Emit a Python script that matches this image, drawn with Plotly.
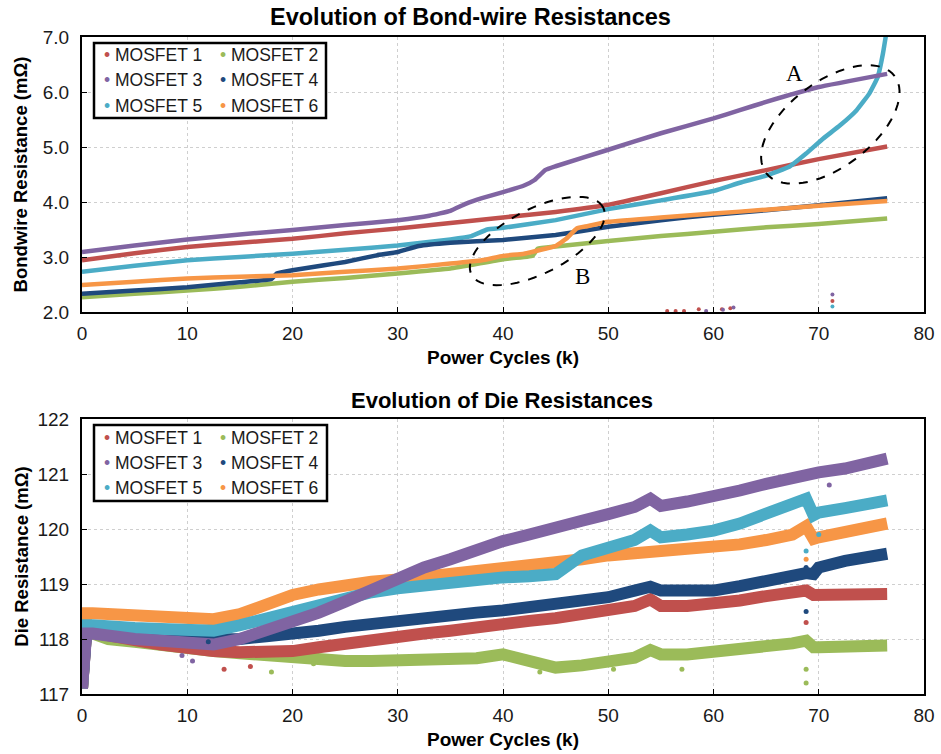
import math
import plotly.graph_objects as go

# ---------------- colours ----------------
COL = {
    "MOSFET 1": "#C0504D",
    "MOSFET 2": "#9BBB59",
    "MOSFET 3": "#8064A2",
    "MOSFET 4": "#1F497D",
    "MOSFET 5": "#4BACC6",
    "MOSFET 6": "#F79646",
}
NAMES = ["MOSFET 1", "MOSFET 2", "MOSFET 3", "MOSFET 4", "MOSFET 5", "MOSFET 6"]

# ---------------- top chart: bond-wire resistance (mOhm) ----------------
bw_m1_x = [0, 5, 10, 15, 20, 25, 30, 35, 40, 45, 50, 55, 60, 62.5, 65, 70, 76.5]
bw_m1_y = [2.94, 3.07, 3.18, 3.26, 3.33, 3.43, 3.52, 3.62, 3.72, 3.82, 3.95, 4.16, 4.38, 4.48, 4.58, 4.78, 5.01]

bw_m2_x = [0, 5, 10, 15, 20, 25, 30, 35, 40, 42.8, 43.3, 45, 50, 55, 60, 65, 70, 76.5]
bw_m2_y = [2.27, 2.33, 2.39, 2.46, 2.55, 2.62, 2.70, 2.79, 2.96, 3.02, 3.15, 3.19, 3.29, 3.38, 3.46, 3.54, 3.60, 3.70]

bw_m3_x = [0, 5, 10, 15, 20, 25, 30, 33, 35, 36.5, 38, 40, 42, 43, 44, 45, 50, 55, 60, 62.5, 65, 70, 76.5]
bw_m3_y = [3.09, 3.21, 3.32, 3.41, 3.49, 3.58, 3.67, 3.75, 3.84, 3.97, 4.07, 4.18, 4.30, 4.40, 4.58, 4.65, 4.95, 5.25, 5.52, 5.67, 5.82, 6.09, 6.33]

bw_m4_x = [0, 5, 10, 15, 18, 18.5, 20, 23, 25, 28, 30, 32, 35, 40, 45, 50, 55, 60, 65, 70, 76.5]
bw_m4_y = [2.33, 2.39, 2.45, 2.54, 2.60, 2.70, 2.76, 2.85, 2.91, 3.03, 3.09, 3.20, 3.26, 3.31, 3.40, 3.55, 3.67, 3.77, 3.85, 3.94, 4.07]

bw_m5_x = [0, 5, 10, 15, 20, 25, 30, 35, 37, 38.5, 40, 45, 50, 55, 60, 62.5, 65, 67.2, 68.8, 70.4, 72, 73.6, 74.8, 75.6, 76.1, 76.4]
bw_m5_y = [2.73, 2.84, 2.94, 3.00, 3.06, 3.13, 3.21, 3.32, 3.38, 3.50, 3.53, 3.67, 3.87, 4.03, 4.20, 4.35, 4.48, 4.64, 4.88, 5.15, 5.39, 5.67, 5.97, 6.27, 6.70, 7.05]

bw_m6_x = [0, 5, 10, 15, 20, 25, 30, 35, 38, 40, 42, 44, 45, 46, 47, 48, 50, 55, 60, 65, 70, 76.5]
bw_m6_y = [2.49, 2.55, 2.61, 2.64, 2.67, 2.73, 2.79, 2.88, 2.94, 3.02, 3.06, 3.15, 3.20, 3.33, 3.52, 3.56, 3.64, 3.72, 3.79, 3.86, 3.93, 4.02]

# stray readings near the bottom of the top chart
bw_stray_x = [55.6, 56.4, 57.2, 58.6, 60.8, 61.6, 59.3, 60.9, 61.9, 71.3, 71.3, 71.3]
bw_stray_y = [2.02, 2.02, 2.02, 2.05, 2.05, 2.07, 2.02, 2.04, 2.08, 2.20, 2.32, 2.10]
bw_stray_c = ["MOSFET 1"] * 6 + ["MOSFET 3"] * 3 + ["MOSFET 1", "MOSFET 3", "MOSFET 5"]

# ---------------- bottom chart: die resistance (mOhm) ----------------
die_x = [0, 0.4, 1, 2.5, 5, 7.5, 10, 12.5, 15, 17.5, 20, 22.5, 25, 27.5, 30, 32.5, 35, 37.5, 40,
         42.5, 45, 47.5, 50, 52.5, 54, 55, 57.5, 60, 62.5, 65, 67.5, 68.8, 69.5, 70, 72.5, 75, 76.5]
die_m1 = [117.1, 118.15, 118.12, 118.05, 117.98, 117.9, 117.82, 117.78, 117.76, 117.76, 117.78, 117.85, 117.92, 118.0,
          118.05, 118.1, 118.15, 118.22, 118.3, 118.33, 118.38, 118.45, 118.5, 118.6, 118.72, 118.6, 118.6, 118.64,
          118.7, 118.78, 118.83, 118.88, 118.8, 118.8, 118.8, 118.82, 118.82]
die_m2 = [117.1, 118.15, 118.1, 118.0, 117.95, 117.88, 117.82, 117.78, 117.74, 117.7, 117.66, 117.63, 117.6, 117.6,
          117.6, 117.6, 117.62, 117.65, 117.72, 117.62, 117.48, 117.52, 117.58, 117.66, 117.8, 117.72, 117.72, 117.76,
          117.8, 117.86, 117.92, 117.97, 117.85, 117.85, 117.86, 117.87, 117.88]
die_m3 = [117.1, 118.1, 118.1, 118.05, 118.0, 117.97, 117.93, 117.9, 118.0, 118.15, 118.3, 118.48, 118.68, 118.9,
          119.12, 119.3, 119.45, 119.62, 119.78, 119.9, 120.05, 120.15, 120.27, 120.4, 120.55, 120.42, 120.5, 120.58,
          120.7, 120.82, 120.95, 121.02, 121.0, 121.03, 121.1, 121.2, 121.28]
die_m4 = [117.1, 118.15, 118.14, 118.1, 118.05, 118.0, 117.98, 117.97, 118.0, 118.05, 118.08, 118.15, 118.22, 118.28,
          118.33, 118.38, 118.43, 118.48, 118.52, 118.58, 118.62, 118.7, 118.76, 118.88, 118.95, 118.88, 118.87, 118.88,
          118.96, 119.06, 119.14, 119.2, 119.18, 119.3, 119.42, 119.48, 119.55]
die_m5 = [117.1, 118.25, 118.25, 118.22, 118.2, 118.18, 118.16, 118.15, 118.25, 118.38, 118.5, 118.62, 118.75, 118.85,
          118.92, 118.98, 119.03, 119.08, 119.12, 119.14, 119.18, 119.52, 119.65, 119.8, 119.97, 119.85, 119.9, 119.97,
          120.1, 120.27, 120.42, 120.55, 120.25, 120.3, 120.38, 120.45, 120.52]
die_m6 = [117.1, 118.47, 118.47, 118.46, 118.45, 118.44, 118.42, 118.36, 118.45, 118.62, 118.8, 118.9, 118.98, 119.04,
          119.08, 119.13, 119.18, 119.22, 119.27, 119.3, 119.36, 119.45, 119.52, 119.58, 119.62, 119.6, 119.64, 119.67,
          119.72, 119.8, 119.9, 120.05, 119.82, 119.85, 119.93, 120.0, 120.1]
die_series = [die_m1, die_m2, die_m3, die_m4, die_m5, die_m6]

# isolated die readings away from the main bands
die_out_x = [68.8, 68.8, 68.8, 68.8, 68.8, 68.8, 68.8, 57.0, 50.5, 43.5, 13.5, 16.0, 18.0, 22.0, 10.5, 9.5, 12.0, 71.0, 74.0, 70.0]
die_out_y = [117.2, 117.45, 118.3, 118.5, 119.6, 119.45, 119.3, 117.45, 117.45, 117.4, 117.45, 117.5, 117.4, 117.55, 117.6, 117.7, 117.95, 120.8, 121.15, 119.9]
die_out_c = ["MOSFET 2", "MOSFET 2", "MOSFET 1", "MOSFET 4", "MOSFET 5", "MOSFET 6", "MOSFET 4", "MOSFET 2",
             "MOSFET 2", "MOSFET 2", "MOSFET 1", "MOSFET 1", "MOSFET 2", "MOSFET 2", "MOSFET 3", "MOSFET 3",
             "MOSFET 4", "MOSFET 3", "MOSFET 3", "MOSFET 5"]

# ---------------- geometry helpers (layout only) ----------------
W, H = 941, 754
ML, MR, MT, MB = 82, 17, 37, 60
PW, PH = W - ML - MR, H - MT - MB
TOP_Y0, TOP_Y1 = 312, 37       # pixel rows of the top plot frame
BOT_Y0, BOT_Y1 = 694, 419      # pixel rows of the bottom plot frame


def px2paper_x(px):
    return (px - ML) / PW


def px2paper_y(py):
    return (H - MB - py) / PH


top_dom = [px2paper_y(TOP_Y0), 1.0]
bot_dom = [0.0, px2paper_y(BOT_Y1)]

FONT = "Liberation Sans, Arial, sans-serif"

fig = go.Figure()

top_sets = [(bw_m1_x, bw_m1_y), (bw_m2_x, bw_m2_y), (bw_m3_x, bw_m3_y),
            (bw_m4_x, bw_m4_y), (bw_m5_x, bw_m5_y), (bw_m6_x, bw_m6_y)]
draw_order = [1, 0, 4, 3, 5, 2]  # green under, purple on top
for i in draw_order:
    xs, ys = top_sets[i]
    fig.add_trace(go.Scatter(x=xs, y=ys, mode="lines", name=NAMES[i], showlegend=False,
                             line=dict(color=COL[NAMES[i]], width=4.5, shape="spline", smoothing=0.3),
                             xaxis="x", yaxis="y", cliponaxis=True))

fig.add_trace(go.Scatter(x=bw_stray_x, y=bw_stray_y, mode="markers", showlegend=False,
                         marker=dict(size=4, color=[COL[c] for c in bw_stray_c]),
                         xaxis="x", yaxis="y"))

die_order = [1, 0, 3, 5, 4, 2]
for i in die_order:
    fig.add_trace(go.Scatter(x=die_x, y=die_series[i], mode="lines", name=NAMES[i], showlegend=False,
                             line=dict(color=COL[NAMES[i]], width=12),
                             xaxis="x2", yaxis="y2"))

fig.add_trace(go.Scatter(x=die_out_x, y=die_out_y, mode="markers", showlegend=False,
                         marker=dict(size=5, color=[COL[c] for c in die_out_c]),
                         xaxis="x2", yaxis="y2"))

# ---------------- ellipses A and B (annotation shapes) ----------------
x_scale = PW / 80.0           # px per k-cycle
y_scale = (TOP_Y0 - TOP_Y1) / 5.0  # px per mOhm on the top chart


def ellipse_path(cx, cy, a, b, ang):
    th = math.radians(ang)
    pts = []
    for k in range(73):
        t = 2 * math.pi * k / 72
        dx = a * math.cos(t) * math.cos(th) - b * math.sin(t) * math.sin(th)
        dy = a * math.cos(t) * math.sin(th) + b * math.sin(t) * math.cos(th)
        pts.append((cx + dx / x_scale, cy + dy / y_scale))
    return "M " + " L ".join(f"{x:.4f},{y:.4f}" for x, y in pts) + " Z"


shapes = [
    dict(type="path", path=ellipse_path(71.1, 5.41, 80.5, 42.7, 37), xref="x", yref="y",
         line=dict(color="black", width=2, dash="dash")),
    dict(type="path", path=ellipse_path(43.26, 3.29, 73.9, 32.3, 27), xref="x", yref="y",
         line=dict(color="black", width=2, dash="dash")),
]

annotations = [
    dict(text="A", x=67.7, y=6.33, xref="x", yref="y", showarrow=False,
         font=dict(family="Liberation Serif, Times New Roman, serif", size=23, color="black")),
    dict(text="B", x=47.6, y=2.64, xref="x", yref="y", showarrow=False,
         font=dict(family="Liberation Serif, Times New Roman, serif", size=23, color="black")),
    dict(text="<b>Evolution of Bond-wire Resistances</b>", x=px2paper_x(470), y=px2paper_y(17),
         xref="paper", yref="paper", showarrow=False, xanchor="center", yanchor="middle",
         font=dict(family=FONT, size=23.5, color="black")),
    dict(text="<b>Evolution of Die Resistances</b>", x=px2paper_x(502), y=px2paper_y(400),
         xref="paper", yref="paper", showarrow=False, xanchor="center", yanchor="middle",
         font=dict(family=FONT, size=22, color="black")),
]

# ---------------- legends (two columns of text with coloured bullets) ----------------
legend_boxes = [(94, 43, 326, 118, [55, 80, 106]), (94, 425, 327, 501, [438, 463, 488])]
for (bx0, by0, bx1, by1, rows) in legend_boxes:
    shapes.append(dict(type="rect", xref="paper", yref="paper",
                       x0=px2paper_x(bx0), x1=px2paper_x(bx1), y0=px2paper_y(by1), y1=px2paper_y(by0),
                       line=dict(color="black", width=2.5), fillcolor="white", layer="above"))
    for r, py in enumerate(rows):
        for c, pxl in enumerate([102, 218]):
            name = NAMES[r * 2 + c]
            annotations.append(dict(
                text=f"<span style='color:{COL[name]}'>•</span> {name}",
                x=px2paper_x(pxl), y=px2paper_y(py), xref="paper", yref="paper",
                xanchor="left", yanchor="middle", showarrow=False,
                font=dict(family=FONT, size=17.5, color="#1a1a1a")))

axis_common = dict(showgrid=True, gridcolor="#cfcfcf", griddash="dot", gridwidth=1,
                   showline=True, linecolor="black", linewidth=2, mirror=True,
                   ticks="inside", ticklen=5, tickcolor="black", zeroline=False, automargin=False,
                   tickfont=dict(family=FONT, size=19, color="#1a1a1a"))

xt = dict(text="<b>Power Cycles (k)</b>", font=dict(family=FONT, size=19, color="black"), standoff=8)

fig.update_layout(
    width=W, height=H,
    margin=dict(l=ML, r=MR, t=MT, b=MB, autoexpand=False),
    plot_bgcolor="white", paper_bgcolor="white",
    showlegend=False,
    xaxis=dict(range=[0, 80], dtick=10, domain=[0, 1], anchor="y", title=xt, ticklabelstandoff=3,
               **axis_common),
    yaxis=dict(range=[2, 7], dtick=1, tickformat=".1f", domain=top_dom, anchor="x", ticklabelstandoff=7,
               title=dict(text="<b>Bondwire Resistance (mΩ)</b>", font=dict(family=FONT, size=18.5, color="black"), standoff=10),
               **axis_common),
    xaxis2=dict(range=[0, 80], dtick=10, domain=[0, 1], anchor="y2", title=xt, ticklabelstandoff=3,
                **axis_common),
    yaxis2=dict(range=[117, 122], dtick=1, domain=bot_dom, anchor="x2", ticklabelstandoff=7,
                title=dict(text="<b>Die Resistance (mΩ)</b>", font=dict(family=FONT, size=18.5, color="black"), standoff=4),
                **axis_common),
    shapes=shapes,
    annotations=annotations,
)

fig.write_html("out.html")
